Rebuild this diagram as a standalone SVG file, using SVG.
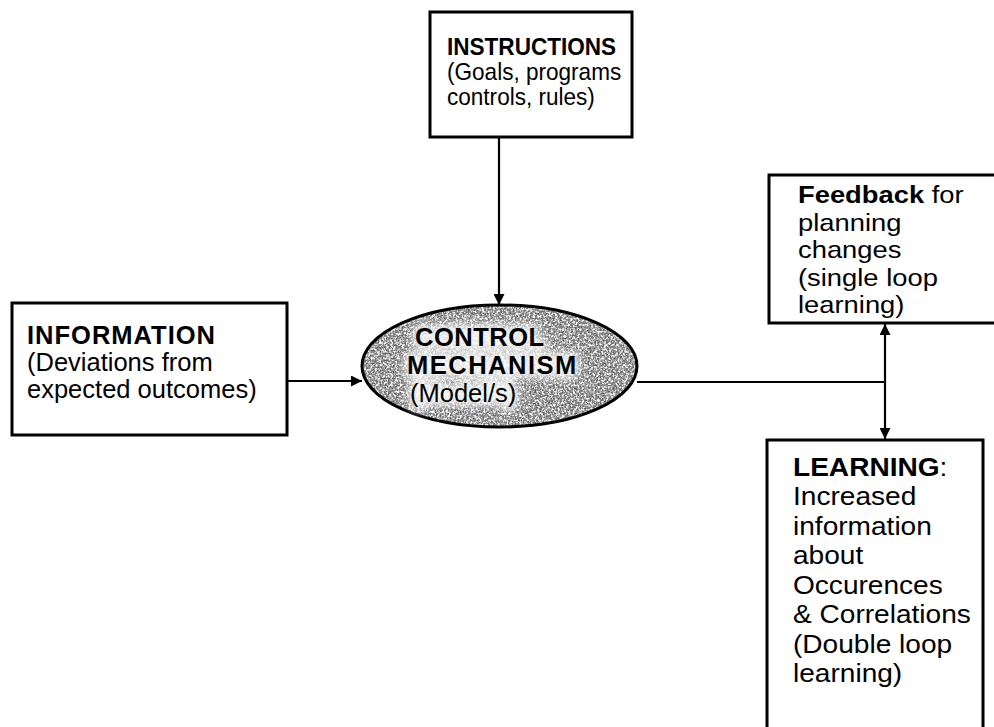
<svg xmlns="http://www.w3.org/2000/svg" width="994" height="727" viewBox="0 0 994 727">
  <style>
    .box { fill: #fff; stroke: #000; stroke-width: 3; }
    .t { font-family: "Liberation Sans", Arial, sans-serif; fill: #000; }
    .b { font-weight: bold; }
    .instr { font-size: 24px; }
    .info { font-size: 25.5px; }
    .ctl { font-size: 25.5px; }
    .fb { font-size: 24px; }
    .side { font-size: 26px; }
    .wire { stroke: #000; stroke-width: 2.2; fill: none; }
  </style>
  <defs>
    <marker id="arrow" viewBox="0 0 10 10" refX="10" refY="5" markerWidth="11" markerHeight="11" markerUnits="userSpaceOnUse" orient="auto-start-reverse">
      <path d="M0,0 L10,5 L0,10 z" fill="#000"/>
    </marker>
    <!-- grainy grey texture for the control mechanism: grey base, white and dark specks -->
    <filter id="stipple" x="0" y="0" width="100%" height="100%">
      <feFlood flood-color="#8e8e8e" result="bg"/>
      <feTurbulence type="fractalNoise" baseFrequency="0.45" numOctaves="3" seed="3" result="n1"/>
      <feColorMatrix in="n1" type="matrix" values="0 0 0 0 1  0 0 0 0 1  0 0 0 0 1  0 0 0 4 -1.75" result="light"/>
      <feTurbulence type="fractalNoise" baseFrequency="0.6" numOctaves="2" seed="11" result="n2"/>
      <feColorMatrix in="n2" type="matrix" values="0 0 0 0 0.1  0 0 0 0 0.1  0 0 0 0 0.1  0 0 0 4 -1.9" result="dark"/>
      <feComposite in="light" in2="bg" operator="over" result="t1"/>
      <feComposite in="dark" in2="t1" operator="over" result="tex"/>
      <feComposite in="tex" in2="SourceGraphic" operator="in"/>
    </filter>
    <filter id="halo" x="-10%" y="-20%" width="120%" height="140%">
      <feGaussianBlur stdDeviation="4"/>
    </filter>
  </defs>

  <g id="connectors">
    <line class="wire" x1="287" y1="381" x2="362" y2="381" marker-end="url(#arrow)"/>
    <line class="wire" x1="499" y1="137" x2="499" y2="305" marker-end="url(#arrow)"/>
    <line class="wire" x1="637" y1="382" x2="885" y2="382"/>
    <line class="wire" x1="885" y1="324" x2="885" y2="439" marker-start="url(#arrow)" marker-end="url(#arrow)"/>
  </g>

  <g id="instructions">
    <rect class="box" x="430" y="12" width="202" height="125"/>
    <g transform="translate(447,0) scale(0.94,1)">
      <text class="t instr b" x="0" y="55">INSTRUCTIONS</text>
      <text class="t instr" x="0" y="80">(Goals, programs</text>
      <text class="t instr" x="0" y="105">controls, rules)</text>
    </g>
  </g>

  <g id="information">
    <rect class="box" x="12" y="303" width="275" height="132"/>
    <text class="t info b" x="27" y="344" letter-spacing="1">INFORMATION</text>
    <text class="t info" x="27" y="371">(Deviations from</text>
    <text class="t info" x="27" y="398">expected outcomes)</text>
  </g>

  <g id="control">
    <ellipse cx="499.5" cy="366" rx="137.5" ry="61" fill="#000" filter="url(#stipple)"/>
    <ellipse cx="499.5" cy="366" rx="137.5" ry="61" fill="none" stroke="#000" stroke-width="3"/>
    <g filter="url(#halo)" opacity="0.85">
      <text class="t ctl b" x="415" y="346" letter-spacing="0.5" stroke="#fff" stroke-width="8" fill="#fff">CONTROL</text>
      <text class="t ctl b" x="407" y="374" letter-spacing="1.5" stroke="#fff" stroke-width="8" fill="#fff">MECHANISM</text>
      <text class="t ctl" x="410" y="402" stroke="#fff" stroke-width="8" fill="#fff">(Model/s)</text>
    </g>
    <text class="t ctl b" x="415" y="346" letter-spacing="0.5">CONTROL</text>
    <text class="t ctl b" x="407" y="374" letter-spacing="1.5">MECHANISM</text>
    <text class="t ctl" x="410" y="402">(Model/s)</text>
  </g>

  <g id="feedback">
    <rect class="box" x="769" y="175" width="240" height="148"/>
    <g transform="translate(798,0) scale(1.14,1)">
      <text class="t fb" x="0" y="203.5"><tspan class="b">Feedback</tspan> for</text>
      <text class="t fb" x="0" y="231">planning</text>
      <text class="t fb" x="0" y="258.5">changes</text>
      <text class="t fb" x="0" y="286">(single loop</text>
      <text class="t fb" x="0" y="313">learning)</text>
    </g>
  </g>

  <g id="learning">
    <rect class="box" x="767" y="440" width="216" height="300"/>
    <g transform="translate(793,0) scale(1.08,1)">
      <text class="t side" x="0" y="476"><tspan class="b">LEARNING</tspan>:</text>
      <text class="t side" x="0" y="505.5">Increased</text>
      <text class="t side" x="0" y="535">information</text>
      <text class="t side" x="0" y="564.5">about</text>
      <text class="t side" x="0" y="594">Occurences</text>
      <text class="t side" x="0" y="623.5">&amp; Correlations</text>
      <text class="t side" x="0" y="653">(Double loop</text>
      <text class="t side" x="0" y="682.5">learning)</text>
    </g>
  </g>
</svg>
